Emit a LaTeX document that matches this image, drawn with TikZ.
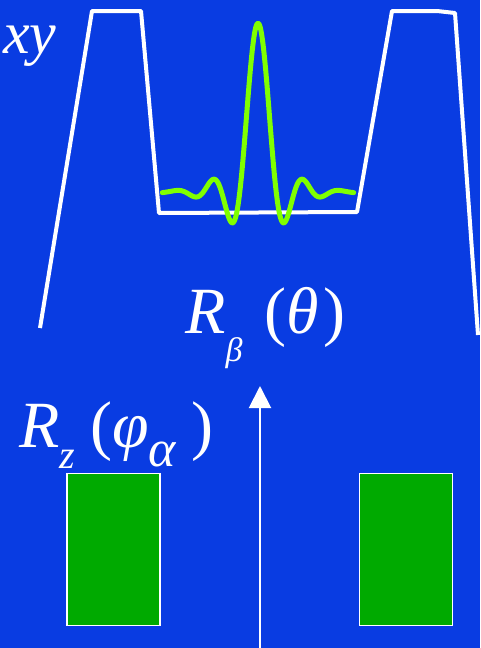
\documentclass[tikz,border=0pt]{standalone}
\usepackage{fontspec}
\setmainfont{Liberation Serif}
\usepackage{tikz}
\usetikzlibrary{arrows.meta}
\definecolor{slideBg}{RGB}{  9, 60,226}
\definecolor{sincG}{RGB}{128,255,  0}
\definecolor{blockG}{RGB}{  0,170,  0}

\begin{document}
\begin{tikzpicture}[
    x=1pt, y=-1pt,
    profile/.style={draw=white, line width=4pt, line join=round},
    sinc/.style={draw=sincG, line width=5pt, line cap=round, line join=round},
    blockbox/.style={draw=white, line width=1.5pt, fill=blockG, minimum width=93pt, minimum height=152pt, inner sep=0pt},
    lbl/.style={text=white, font=\fontsize{66}{66}\selectfont\itshape, inner sep=0pt}
  ]
  \fill[slideBg] (0,0) rectangle (480,648);
  \useasboundingbox (0,0) rectangle (480,648);

  % slab profile
  \draw[profile] (40,328) -- (92,11) -- (141,11) -- (159,213) -- (357,212)
    -- (392,11) -- (437,11) -- (455,13) -- (478,335);

  % windowed sinc
  \draw[sinc] plot[domain=-16.5:16.5, samples=201, smooth]
    ({258+5.8*\x}, {192-169*sin(deg(abs(\x)+0.0001))/(abs(\x)+0.0001)*(0.54+0.46*cos(abs(\x)*180/16.5))});

  % labels
  \node[lbl, anchor=base west, font=\fontsize{60}{60}\selectfont\itshape] (xy) at (3,53) {xy};
  \node[lbl, anchor=base west] (rbeta) at (185,333)
    {R\raisebox{-28pt}{\fontsize{34}{34}\selectfont β}\hspace{22pt}\upshape(\itshape θ\hspace{5pt}\upshape)};
  \node[lbl, anchor=base west] (rz) at (19,447)
    {R\raisebox{-21pt}{\fontsize{40}{40}\selectfont z}\hspace{15pt}\upshape(\itshape φ\raisebox{-19pt}{\fontsize{52}{52}\selectfont α}\hspace{16pt}\upshape)};

  % blocks
  \node[blockbox] (leftblock) at (113.5,549.5) {};
  \node[blockbox] (rightblock) at (406,549.5) {};

  % rotation axis
  \coordinate (axisfoot) at (260,648);
  \coordinate (axistip) at (260,386);
  \draw[white, line width=2pt, -{Triangle[width=22pt, length=22pt]}] (axisfoot) -- (axistip);
\end{tikzpicture}
\end{document}
